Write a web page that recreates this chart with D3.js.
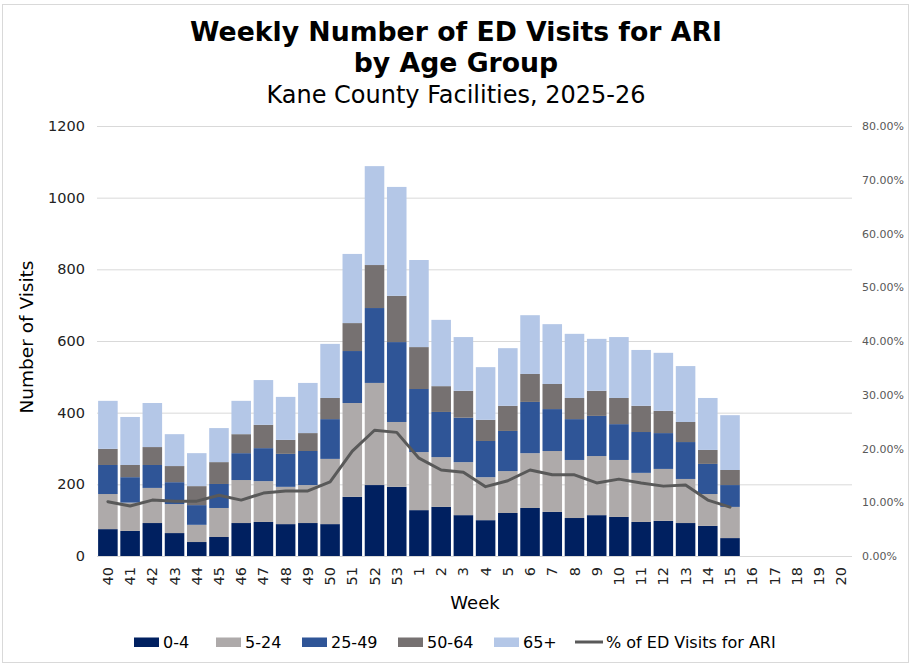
<!DOCTYPE html>
<html>
<head>
<meta charset="utf-8">
<script src="https://d3js.org/d3.v7.min.js"></script>
<style>
  body { margin: 0; background: #fff; }
  svg text { font-family: "DejaVu Sans", Verdana, sans-serif; }
</style>
</head>
<body>
<div id="chart"></div>
<script>
// chart size
var width = 914, height = 668;

// data
var weeks = ["40","41","42","43","44","45","46","47","48","49","50","51","52","53",
             "1","2","3","4","5","6","7","8","9","10","11","12","13","14","15",
             "16","17","18","19","20"];
var age0_4   = [75,70,92,64,39,53,92,95,89,92,89,165,198,193,128,137,114,100,120,134,123,106,114,109,95,98,92,84,50];
var age5_24  = [98,79,98,81,48,81,120,114,104,106,182,262,285,181,162,139,148,120,117,153,170,162,165,159,137,145,123,89,87];
var age25_49 = [81,71,64,61,55,67,75,92,92,95,111,145,209,223,176,126,124,101,112,143,117,114,112,100,114,100,103,84,61];
var age50_64 = [45,34,50,45,53,61,53,65,39,50,59,78,120,129,117,72,75,59,70,78,70,59,70,73,73,62,56,39,42];
var age65up  = [134,134,123,89,92,95,93,125,120,140,151,193,276,304,243,185,150,147,161,164,167,179,145,170,156,162,156,145,153];
var pctARI   = [10.1,9.3,10.4,10.2,10.2,11.3,10.4,11.7,12.1,12.1,13.8,19.5,23.4,23.0,18.2,16.0,15.6,12.9,14.0,16.0,15.1,15.1,13.6,14.3,13.6,13.0,13.2,10.4,9.1];
var groups = ["0-4","5-24","25-49","50-64","65+"];
var colors = ["#002060","#aeaaaa","#2f5597","#767171","#b4c7e7"];
var yTicks = [0,200,400,600,800,1000,1200];
var pctTicks = [0,10,20,30,40,50,60,70,80];

var series_values = [age0_4, age5_24, age25_49, age50_64, age65up];

// build rows for the stack
var rows = age0_4.map(function (v, i) {
    var r = { week: weeks[i] };
    groups.forEach(function (g, k) { r[g] = series_values[k][i]; });
    return r;
});

var plot = { left: 97, right: 852, top: 126, bottom: 556 };

var svg = d3.select("#chart").append("svg")
            .attr("width", width)
            .attr("height", height);

// outer border
svg.append("rect")
   .attr("x", 2.5).attr("y", 4.5)
   .attr("width", 906).attr("height", 658)
   .attr("fill", "#fff")
   .attr("stroke", "#d9d9d9");

var x = d3.scaleBand()
          .domain(weeks)
          .range([plot.left, plot.right])
          .paddingInner(0.12)
          .paddingOuter(0.05);
var y = d3.scaleLinear().domain([0, 1200]).range([plot.bottom, plot.top]);
var y2 = d3.scaleLinear().domain([0, 80]).range([plot.bottom, plot.top]);

// gridlines
svg.append("g").selectAll("line")
   .data(yTicks)
   .enter().append("line")
   .attr("x1", plot.left).attr("x2", plot.right)
   .attr("y1", function (d) { return y(d) + 0.5; })
   .attr("y2", function (d) { return y(d) + 0.5; })
   .attr("stroke", "#d9d9d9")
   .attr("stroke-width", 1);

// stacked bars
var stacked = d3.stack().keys(groups)(rows);
svg.append("g").selectAll("g")
   .data(stacked)
   .enter().append("g")
   .attr("fill", function (d, i) { return colors[i]; })
   .selectAll("rect")
   .data(function (d) { return d; })
   .enter().append("rect")
   .attr("x", function (d) { return x(d.data.week); })
   .attr("width", x.bandwidth())
   .attr("y", function (d) { return y(d[1]); })
   .attr("height", function (d) { return y(d[0]) - y(d[1]); });

// percent line
var line = d3.line()
             .x(function (d, i) { return x(weeks[i]) + x.bandwidth() / 2; })
             .y(function (d) { return y2(d); });
svg.append("path")
   .datum(pctARI)
   .attr("d", line)
   .attr("fill", "none")
   .attr("stroke", "#595959")
   .attr("stroke-width", 3)
   .attr("stroke-linejoin", "round")
   .attr("stroke-linecap", "round");

// left axis
var yAxis = d3.axisLeft(y).tickValues(yTicks).tickSize(0).tickPadding(12)
              .tickFormat(d3.format("d"));
var gy = svg.append("g").attr("transform", "translate(" + plot.left + ",0)").call(yAxis);
gy.select(".domain").remove();
gy.selectAll("text")
  .attr("font-family", "DejaVu Sans, Verdana, sans-serif")
  .attr("font-size", "14.5px")
  .attr("fill", "#222");

// right axis
var y2Axis = d3.axisRight(y2).tickValues(pctTicks).tickSize(0).tickPadding(10)
               .tickFormat(function (d) { return d.toFixed(2) + "%"; });
var gy2 = svg.append("g").attr("transform", "translate(" + plot.right + ",0)").call(y2Axis);
gy2.select(".domain").remove();
gy2.selectAll("text")
   .attr("font-family", "Liberation Sans, Arial, sans-serif")
   .attr("font-size", "11px")
   .attr("fill", "#595959");

// bottom axis
var xAxis = d3.axisBottom(x).tickSize(0).tickPadding(0);
var gx = svg.append("g").attr("transform", "translate(0," + plot.bottom + ")").call(xAxis);
gx.select(".domain").attr("stroke", "#d9d9d9").attr("d", "M" + plot.left + ",0.5H" + plot.right);
gx.selectAll("text")
  .attr("font-family", "DejaVu Sans, Verdana, sans-serif")
  .attr("font-size", "14.5px")
  .attr("fill", "#222")
  .attr("text-anchor", "end")
  .attr("dy", "0.35em")
  .attr("transform", "translate(0,11) rotate(-90)");

// titles
svg.append("text")
   .attr("x", 456).attr("y", 41)
   .attr("text-anchor", "middle")
   .attr("font-size", "26.7px").attr("font-weight", "bold")
   .text("Weekly Number of ED Visits for ARI");
svg.append("text")
   .attr("x", 456).attr("y", 72)
   .attr("text-anchor", "middle")
   .attr("font-size", "26.7px").attr("font-weight", "bold")
   .text("by Age Group");
svg.append("text")
   .attr("x", 456).attr("y", 103)
   .attr("text-anchor", "middle")
   .attr("font-size", "24px")
   .text("Kane County Facilities, 2025-26");

// axis titles
svg.append("text")
   .attr("transform", "translate(33,337) rotate(-90)")
   .attr("text-anchor", "middle")
   .attr("font-size", "18.5px")
   .text("Number of Visits");
svg.append("text")
   .attr("x", 475).attr("y", 609)
   .attr("text-anchor", "middle")
   .attr("font-size", "18px")
   .text("Week");

// legend
var legendX = [134, 216, 302, 398, 494];
var legend = svg.append("g");
groups.forEach(function (g, i) {
    legend.append("rect")
          .attr("x", legendX[i]).attr("y", 637.5)
          .attr("width", 25).attr("height", 9.5)
          .attr("fill", colors[i]);
    legend.append("text")
          .attr("x", legendX[i] + 29).attr("y", 648)
          .attr("font-size", "16px")
          .text(g);
});
legend.append("line")
      .attr("x1", 575).attr("x2", 603)
      .attr("y1", 642).attr("y2", 642)
      .attr("stroke", "#595959").attr("stroke-width", 3);
legend.append("text")
      .attr("x", 606).attr("y", 648)
      .attr("font-size", "16px")
      .text("% of ED Visits for ARI");
</script>
</body>
</html>
